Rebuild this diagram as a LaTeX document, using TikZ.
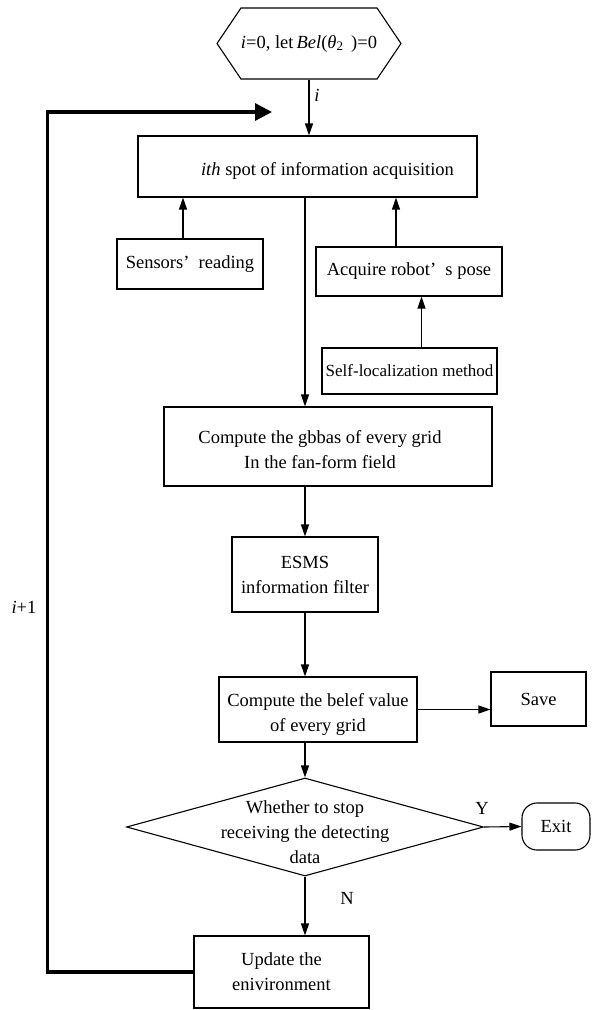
\documentclass[tikz,border=0pt]{standalone}
\usepackage{fontspec}
\setmainfont{Liberation Serif}
\usetikzlibrary{arrows.meta,shapes.geometric,shapes.symbols}

\begin{document}
\begin{tikzpicture}
		[x=1pt,y=-1pt,>={Triangle[length=12pt,width=8pt]},line width=1.1pt,
		 every node/.style={draw,rectangle,align=center,inner sep=0pt,font=\fontsize{18.5}{25}\selectfont},
		 lbl/.style={draw=none},
		 back/.style={line width=3.2pt,-{Triangle[length=17pt,width=17pt]}}] % px-like units, y grows downwards
		
		\useasboundingbox (0,0) rectangle (592,1010);
		
		\node[signal,signal to=east and west,signal pointer angle=112,minimum width=176,minimum height=71] (init) at (309,43.5) {\textit{i}=0,\ let\,\textit{Bel}(\textit{θ}\textsubscript{2}\ \,)=0};
		\node[minimum width=339,minimum height=61] (spot) at (307.5,166.5) {\rule{0pt}{22pt}\hspace*{40pt}\textit{ith} spot of information acquisition};
		\node[minimum width=146,minimum height=50] (sens) at (190,264) {Sensors’\ \ reading};
		\node[minimum width=186,minimum height=49] (pose) at (409,271.5) {Acquire robot’\ \ s pose};
		\node[minimum width=175,minimum height=46,font=\fontsize{17}{25}\selectfont] (self) at (409.5,371) {Self-localization method};
		\node[minimum width=328,minimum height=79] (gbba) at (328,446.5) {\rule{0pt}{20pt}Compute the gbbas of every grid\hspace*{16pt}\\In the fan-form field\hspace*{16pt}};
		\node[minimum width=146,minimum height=75] (esms) at (305,574.5) {ESMS\\information filter};
		\node[minimum width=198,minimum height=65] (belief) at (318,709.5) {\rule{0pt}{22pt}Compute the belef value\\of every grid};
		\node[minimum width=95,minimum height=54] (save) at (538.5,699) {Save};
		\node[diamond,minimum width=357,minimum height=98] (stop) at (305,827) {};
		\node[lbl] at ([yshift=-5pt]stop) {Whether to stop\\receiving the detecting\\data};
		\node[rounded corners=15pt,minimum width=68,minimum height=47] (exit) at (556,826.5) {Exit};
		\node[minimum width=175,minimum height=72] (upd) at (281.5,972) {Update the\\enivironment};
		
		\node[lbl] at (317,95) {\textit{i}};
		\node[lbl] at (482,808) {Y};
		\node[lbl] at (347,898) {N};
		\node[lbl] at (24,607) {\textit{i}+1};
		
		\coordinate (p1) at ([xshift=-7pt]sens.north);
		\coordinate (p2) at ([xshift=-13pt]pose.north);
		\coordinate (p3) at ([xshift=12pt]self.north);
		\coordinate (p4) at (272,112);
		
		\draw [->] (init.south) -- (init.south |- spot.north);
		\draw [->] (p1) -- (p1 |- spot.south);
		\draw [->] (p2) -- (p2 |- spot.south);
		\draw [->] (p3) -- (p3 |- pose.south);
		\draw [->] (spot.south -| esms) -- (gbba.north -| esms);
		\draw [->] (gbba.south -| esms) -- (esms.north);
		\draw [->] (esms.south) -- (belief.north -| esms);
		\draw [->] (belief.south -| esms) -- (stop.north);
		\draw [->] (belief.east) -- (belief.east -| save.west);
		\draw [->] (stop.east) -- (exit.west);
		\draw [->] (stop.south) -- (upd.north -| stop.south);
		\draw [back] (upd.west) -- ++(-146,0) |- (p4);
		
	\end{tikzpicture}
\end{document}
